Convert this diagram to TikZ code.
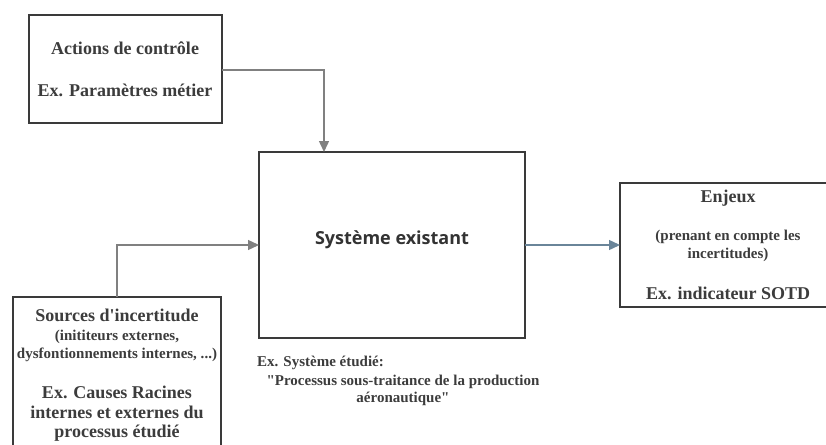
\documentclass[tikz,border=0pt]{standalone}
\usepackage{fontspec}
\setmainfont{Liberation Serif}[Ligatures=TeXOff]
\newfontfamily\sysfont{Open Sans}
\usetikzlibrary{arrows.meta}
\definecolor{txt}{HTML}{3C3C3C}
\definecolor{boxc}{HTML}{3A3A3A}
\definecolor{arr}{HTML}{808080}
\definecolor{arrb}{HTML}{6A8599}
\newcommand{\bigtxt}{\bfseries\fontsize{18}{20}\selectfont}
\newcommand{\smalltxt}{\bfseries\fontsize{15}{18}\selectfont}
\tikzset{
  boxst/.style={draw=boxc, line width=1.3pt, fill=white},
  lbl/.style={text=txt, inner sep=0pt, anchor=base},
  big/.style={lbl, font=\bigtxt},
  small/.style={lbl, font=\smalltxt},
  conn/.style={draw=arr, line width=1.4pt, -{Triangle[length=11pt,width=10pt]}},
}
\begin{document}
\begin{tikzpicture}[x=1pt,y=-1pt]
\useasboundingbox (0,0) rectangle (826,444);
\clip (0,0) rectangle (826,444);
% boxes
\draw[boxst] (29,15) rectangle (222,123);
\coordinate (actR) at (222,70);
\draw[boxst] (259,152) rectangle (525,338);
\coordinate (sysT) at (324,152);
\coordinate (sysL) at (259,245);
\coordinate (sysR) at (525,245);
\draw[boxst] (13,297) rectangle (221,460);
\coordinate (srcT) at (117,297);
\draw[boxst] (620,183) rectangle (840,307);
\coordinate (enjL) at (620,245);
% texts
\node[big] (act1) at (125,55) {Actions de contrôle};
\node[big] (act2) at (125,96) {Ex. Paramètres métier};
\node[lbl, font=\sysfont\bfseries\fontsize{18}{20}\selectfont, text=black!80] (sys) at (392,244) {Système existant};
\node[big] (enj1) at (728,202) {Enjeux};
\node[small] (enj2) at (728,240) {(prenant en compte les};
\node[small] (enj3) at (728,258) {incertitudes)};
\node[big] (enj4) at (728,299) {Ex. indicateur SOTD};
\node[big] (src1) at (117,321) {Sources d'incertitude};
\node[small] (src2) at (117,340) {(inititeurs externes,};
\node[small] (src3) at (117,358) {dysfontionnements internes, ...)};
\node[big] (src4) at (117,398) {Ex. Causes Racines};
\node[big] (src5) at (117,418) {internes et externes du};
\node[big] (src6) at (117,437) {processus étudié};
\node[small, anchor=base west] (ex1) at (257,366) {Ex. Système étudié:};
\node[small] (ex2) at (403,385) {"Processus sous-traitance de la production};
\node[small] (ex3) at (403,402) {aéronautique"};
% connectors
\draw[conn] (actR) -| (sysT);
\draw[conn] (srcT) |- (sysL);
\draw[conn, draw=arrb] (sysR) -- (enjL);
\end{tikzpicture}
\end{document}
